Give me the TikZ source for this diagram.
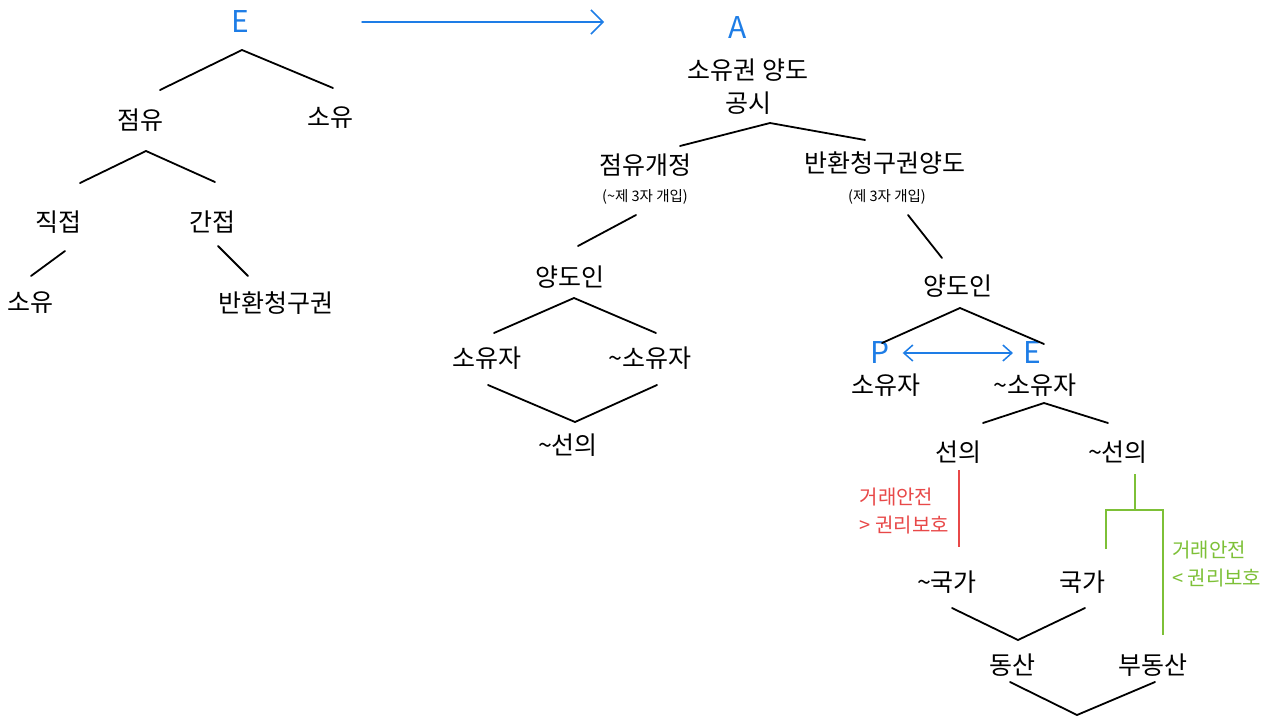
\documentclass[tikz,border=0pt]{standalone}
\usepackage{fontspec}
\setmainfont{Noto Sans CJK KR}
\newfontfamily\kr{Noto Sans CJK KR}
\usetikzlibrary{arrows.meta}
\definecolor{penblue}{RGB}{30,125,230}
\definecolor{penred}{RGB}{232,72,72}
\definecolor{pengreen}{RGB}{125,192,55}
\tikzset{
  lbl/.style={inner sep=1pt, font=\kr\fontsize{25}{27}\selectfont},
  sml/.style={inner sep=1pt, font=\kr\fontsize{14.5}{16}\selectfont},
  bluemark/.style={inner sep=1pt, text=penblue, font=\kr\fontsize{30}{32}\selectfont},
  note/.style={inner sep=1pt, align=left, font=\kr\fontsize{20}{28}\selectfont},
  br/.style={line width=1.8pt, line cap=round, black},
  blue arrow/.style={line width=1.5pt, line cap=round, penblue, -{Straight Barb[length=12pt,width=24pt]}},
  blue twoway/.style={line width=1.5pt, penblue, {Straight Barb[length=9pt,width=16pt]}-{Straight Barb[length=9pt,width=16pt]}},
}
\begin{document}
\begin{tikzpicture}[x=1pt,y=-1pt]
\useasboundingbox (0,0) rectangle (1279,717);

% ---------- left tree ----------
\node[bluemark] (E1) at (240,22) {E};
\node[lbl] (n1) at (140,120) {점유};
\node[lbl] (n2) at (330,118) {소유};
\node[lbl] (n3) at (58,222) {직접};
\node[lbl] (n4) at (212,222) {간접};
\node[lbl] (n5) at (30,303) {소유};
\node[lbl] (n6) at (276,303) {반환청구권};

\coordinate (a1) at (242,50);
\coordinate (a1l) at (160,90);
\coordinate (a1r) at (333,88);
\draw[br] (a1l) -- (a1) -- (a1r);
\coordinate (a2) at (146,151);
\coordinate (a2l) at (80,183);
\coordinate (a2r) at (215,182);
\draw[br] (a2l) -- (a2) -- (a2r);
\coordinate (b3t) at (65,251);
\coordinate (b3b) at (31,276);
\draw[br] (b3t) -- (b3b);
\coordinate (b4t) at (218,246);
\coordinate (b4b) at (248,276);
\draw[br] (b4t) -- (b4b);

% ---------- arrow between the trees ----------
\coordinate (arrS) at (362,22);
\coordinate (arrE) at (604,22);
\draw[blue arrow] (arrS) -- (arrE);

% ---------- right tree ----------
\node[bluemark] (A) at (738,28) {A};
\node[lbl] (r0) at (748,70) {소유권 양도};
\node[lbl] (r0b) at (748,103) {공시};
\node[lbl] (r1) at (645,165) {점유개정};
\node[sml] (r1s) at (645,197) {(\textasciitilde 제 3자 개입)};
\node[lbl] (r2) at (885,163) {반환청구권양도};
\node[sml] (r2s) at (887,197) {(제 3자 개입)};

\coordinate (c0) at (770,123);
\coordinate (c0l) at (680,146);
\coordinate (c0r) at (865,140);
\draw[br] (c0l) -- (c0) -- (c0r);

% left branch
\coordinate (d1t) at (636,215);
\coordinate (d1b) at (578,246);
\draw[br] (d1t) -- (d1b);
\node[lbl] (L1) at (570,277) {양도인};
\node[lbl] (L2) at (487,358) {소유자};
\node[lbl] (L3) at (650,358) {\textasciitilde 소유자};
\node[lbl] (L4) at (568,445) {\textasciitilde 선의};
\coordinate (e1) at (574,298);
\coordinate (e1l) at (494,333);
\coordinate (e1r) at (656,333);
\draw[br] (e1l) -- (e1) -- (e1r);
\coordinate (e2) at (575,422);
\coordinate (e2l) at (488,385);
\coordinate (e2r) at (657,385);
\draw[br] (e2l) -- (e2) -- (e2r);

% right branch
\coordinate (d2t) at (908,215);
\coordinate (d2b) at (942,258);
\draw[br] (d2t) -- (d2b);
\node[lbl] (R1) at (958,286) {양도인};
\node[bluemark] (P) at (880,353) {P};
\node[bluemark] (E2) at (1032,353) {E};
\node[lbl] (R2) at (886,385) {소유자};
\node[lbl] (R3) at (1035,385) {\textasciitilde 소유자};
\draw[blue twoway] ([xshift=12pt]P.east) -- ([xshift=-9pt]E2.west);
\coordinate (f1) at (960,308);
\coordinate (f1l) at (882,343);
\coordinate (f1r) at (1044,344);
\draw[br] (f1l) -- (f1) -- (f1r);

\node[lbl] (R4) at (958,452) {선의};
\node[lbl] (R5) at (1118,452) {\textasciitilde 선의};
\coordinate (f2) at (1044,403);
\coordinate (f2l) at (983,423);
\coordinate (f2r) at (1108,423);
\draw[br] (f2l) -- (f2) -- (f2r);

% good faith: transaction safety wins
\coordinate (g1t) at (959,470);
\coordinate (g1b) at (959,547);
\draw[line width=1.4pt, penred] (g1t) -- (g1b);
\node[note, text=penred, anchor=east] (redn) at (950,511) {거래안전\\> 권리보호};

% no good faith: protection of rights wins
\coordinate (h0) at (1135,474);
\coordinate (h1) at (1135,510);
\coordinate (hl) at (1106,510);
\coordinate (hr) at (1163,510);
\coordinate (hlb) at (1106,549);
\coordinate (hrb) at (1163,635);
\draw[line width=1.4pt, pengreen] (h0) -- (h1);
\draw[line width=1.4pt, pengreen] (hlb) -- (hl) -- (hr) -- (hrb);
\node[note, text=pengreen, anchor=west] (grn) at (1171,564) {거래안전\\< 권리보호};

\node[lbl] (S1) at (947,582) {\textasciitilde 국가};
\node[lbl] (S2) at (1082,582) {국가};
\coordinate (k1) at (1018,640);
\coordinate (k1l) at (952,608);
\coordinate (k1r) at (1085,608);
\draw[br] (k1l) -- (k1) -- (k1r);

\node[lbl] (T1) at (1012,665) {동산};
\node[lbl] (T2) at (1153,665) {부동산};
\coordinate (m1) at (1077,715);
\coordinate (m1l) at (1010,682);
\coordinate (m1r) at (1155,682);
\draw[br] (m1l) -- (m1) -- (m1r);
\end{tikzpicture}
\end{document}
